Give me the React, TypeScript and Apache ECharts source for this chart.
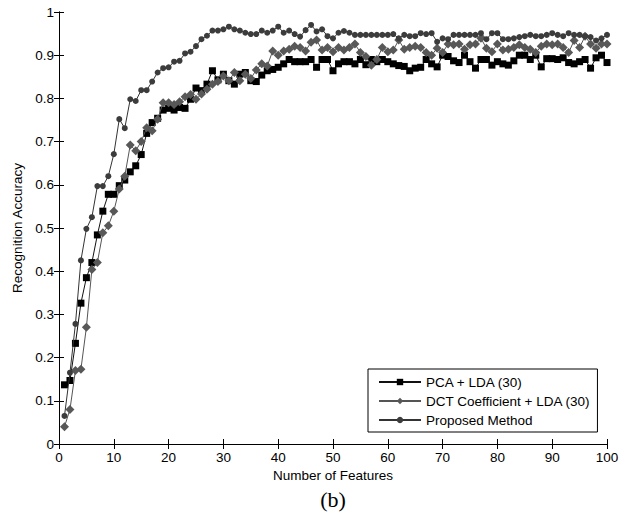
import React, { useEffect, useRef } from "react";
import * as echarts from "echarts";

const features: number[] = Array.from({ length: 100 }, (_, i) => i + 1);

const pcaLda: number[] = [
  0.137, 0.147, 0.233, 0.326, 0.385, 0.42, 0.484, 0.539, 0.578, 0.578,
  0.598, 0.611, 0.63, 0.644, 0.67, 0.719, 0.744, 0.754, 0.773, 0.777,
  0.773, 0.779, 0.777, 0.798, 0.824, 0.818, 0.833, 0.864, 0.843, 0.856,
  0.841, 0.833, 0.856, 0.86, 0.841, 0.839, 0.854, 0.864, 0.867, 0.872,
  0.88, 0.89, 0.885, 0.885, 0.885, 0.89, 0.872, 0.89, 0.89, 0.864,
  0.88, 0.885, 0.885, 0.88, 0.89, 0.878, 0.89, 0.885, 0.89, 0.885,
  0.88, 0.876, 0.874, 0.864, 0.87, 0.872, 0.89, 0.88, 0.873, 0.9,
  0.897, 0.887, 0.883, 0.9, 0.885, 0.87, 0.89, 0.89, 0.877, 0.885,
  0.88, 0.877, 0.887, 0.9, 0.9, 0.89, 0.9, 0.873, 0.892, 0.892,
  0.89, 0.894, 0.883, 0.88, 0.885, 0.89, 0.87, 0.894, 0.9, 0.883,
];

const dctLda: number[] = [
  0.04, 0.08, 0.17, 0.173, 0.27, 0.404, 0.42, 0.489, 0.505, 0.539,
  0.59, 0.62, 0.692, 0.679, 0.7, 0.732, 0.725, 0.752, 0.79, 0.79,
  0.786, 0.792, 0.804, 0.809, 0.798, 0.81, 0.821, 0.833, 0.839, 0.852,
  0.841, 0.86, 0.841, 0.856, 0.846, 0.866, 0.88, 0.875, 0.91, 0.9,
  0.91, 0.914, 0.921, 0.918, 0.91, 0.93, 0.935, 0.912, 0.918, 0.908,
  0.918, 0.912, 0.918, 0.926, 0.906, 0.897, 0.877, 0.89, 0.918, 0.908,
  0.912, 0.935, 0.914, 0.918, 0.921, 0.918, 0.906, 0.9, 0.916, 0.906,
  0.926, 0.924, 0.926, 0.914, 0.924, 0.926, 0.939, 0.916, 0.908, 0.926,
  0.912, 0.914, 0.918, 0.924, 0.918, 0.914, 0.906, 0.921, 0.926, 0.924,
  0.926, 0.918, 0.906, 0.934, 0.918, 0.944, 0.926, 0.916, 0.926, 0.926,
];

const proposed: number[] = [
  0.065, 0.165, 0.278, 0.425, 0.498, 0.525, 0.597, 0.597, 0.62, 0.671,
  0.752, 0.731, 0.798, 0.794, 0.819, 0.819, 0.839, 0.86, 0.87, 0.872,
  0.885, 0.887, 0.904, 0.908, 0.921, 0.937, 0.945, 0.957, 0.957, 0.96,
  0.966, 0.96, 0.957, 0.952, 0.949, 0.949, 0.957, 0.952, 0.957, 0.966,
  0.952, 0.957, 0.949, 0.943, 0.958, 0.97, 0.955, 0.96, 0.944, 0.939,
  0.952, 0.956, 0.952, 0.947, 0.947, 0.947, 0.947, 0.947, 0.947, 0.947,
  0.949, 0.939, 0.947, 0.944, 0.944, 0.951, 0.949, 0.951, 0.931, 0.939,
  0.937, 0.947, 0.947, 0.947, 0.947, 0.947, 0.951, 0.937, 0.951, 0.951,
  0.937, 0.937, 0.939, 0.942, 0.944, 0.947, 0.944, 0.944, 0.947, 0.951,
  0.947, 0.944, 0.951, 0.947, 0.947, 0.944, 0.942, 0.934, 0.939, 0.947,
];

const xTicks = { min: 0, max: 100, interval: 10 };
const yTicks = { min: 0, max: 1, interval: 0.1 };

const seriesNames = ["PCA + LDA (30)", "DCT Coefficient + LDA (30)", "Proposed Method"];

const FONT = "Liberation Sans, Arial, sans-serif";
const FS = 13.5;

export default function App() {
  const ref = useRef<HTMLDivElement>(null);
  useEffect(() => {
    if (!ref.current) return;
    const chart = echarts.init(ref.current, undefined, { renderer: "svg" });
    const pair = (arr: number[]) => arr.map((v, i) => [features[i], v]);
    const axisCommon = {
      axisLine: { show: true, lineStyle: { color: "#000", width: 1 } },
      axisTick: { show: true, inside: true, length: 5, lineStyle: { color: "#000" } },
      splitLine: { show: false },
    };
    chart.setOption({
      animation: false,
      backgroundColor: "#fff",
      grid: { left: 59, right: 19, top: 12, bottom: 72, containLabel: false },
      xAxis: [
        {
          type: "value",
          ...xTicks,
          position: "bottom",
          ...axisCommon,
          axisLabel: { color: "#000", fontSize: FS, fontFamily: FONT, margin: 6 },
          name: "Number of Features",
          nameLocation: "middle",
          nameGap: 22,
          nameTextStyle: { color: "#000", fontSize: FS, fontFamily: FONT },
        },
        {
          type: "value",
          ...xTicks,
          position: "top",
          ...axisCommon,
          axisLabel: { show: false },
        },
      ],
      yAxis: [
        {
          type: "value",
          ...yTicks,
          position: "left",
          ...axisCommon,
          axisLabel: {
            color: "#000",
            fontSize: FS,
            fontFamily: FONT,
            margin: 5,
            formatter: (v: number) => String(Math.round(v * 10) / 10),
          },
          name: "Recognition Accuracy",
          nameLocation: "middle",
          nameGap: 31,
          nameTextStyle: { color: "#000", fontSize: FS, fontFamily: FONT },
        },
        {
          type: "value",
          ...yTicks,
          position: "right",
          ...axisCommon,
          axisLabel: { show: false },
        },
      ],
      legend: {
        left: 368,
        top: 369,
        orient: "vertical",
        backgroundColor: "#fff",
        borderColor: "#000",
        borderWidth: 1,
        borderRadius: 0,
        padding: [6, 7, 5, 10],
        itemGap: 5,
        itemWidth: 42,
        itemHeight: 8,
        textStyle: { color: "#000", fontSize: FS, fontFamily: FONT },
        data: seriesNames,
      },
      series: [
        {
          name: seriesNames[0],
          type: "line",
          data: pair(pcaLda),
          symbol: "rect",
          symbolSize: 7,
          itemStyle: { color: "#000" },
          lineStyle: { color: "#111", width: 1 },
          z: 2,
        },
        {
          name: seriesNames[1],
          type: "line",
          data: pair(dctLda),
          symbol: "diamond",
          symbolSize: 9,
          itemStyle: { color: "#585858" },
          lineStyle: { color: "#555", width: 1 },
          z: 3,
        },
        {
          name: seriesNames[2],
          type: "line",
          data: pair(proposed),
          symbol: "circle",
          symbolSize: 6,
          itemStyle: { color: "#3c3c3c" },
          lineStyle: { color: "#333", width: 1 },
          z: 4,
        },
      ],
      graphic: [
        {
          type: "text",
          x: 333,
          y: 488,
          style: {
            text: "(b)",
            fill: "#000",
            fontSize: 22,
            fontFamily: "Liberation Serif, Times New Roman, serif",
            textAlign: "center",
            textVerticalAlign: "top",
          },
        },
      ],
    });
    return () => chart.dispose();
  }, []);
  return (
    <div
      ref={ref}
      style={{ position: "absolute", left: 0, top: 0, width: 626, height: 516 }}
    />
  );
}
